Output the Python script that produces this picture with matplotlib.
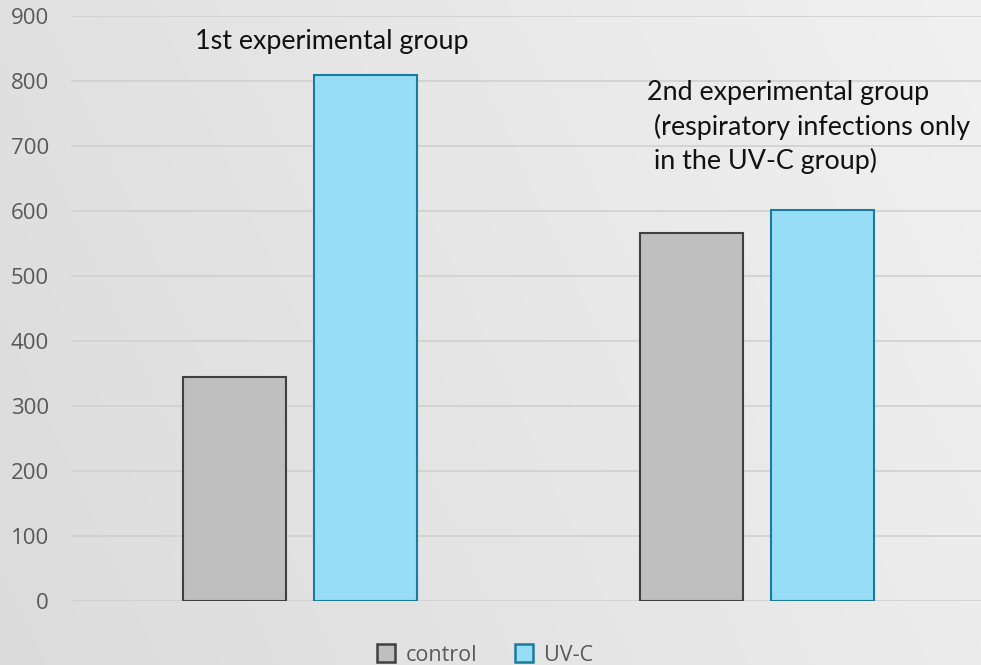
import numpy as np
import matplotlib
matplotlib.use("Agg")
import matplotlib.pyplot as plt
from matplotlib.patches import Patch

groups = ["1st experimental group", "2nd experimental group"]
series = ["control", "UV-C"]
control_vals = [345, 566]
uvc_vals = [810, 602]
yticks = [0, 100, 200, 300, 400, 500, 600, 700, 800, 900]
group_notes = ["1st experimental group",
               "2nd experimental group\n (respiratory infections only\n in the UV-C group)"]

W, H = 981, 665
fig = plt.figure(figsize=(W / 100, H / 100), dpi=100)

# background gradient
bg = fig.add_axes([0, 0, 1, 1], zorder=-10)
xg = np.linspace(0, 1, 300)
yg = np.linspace(0, 1, 200)
X, Y = np.meshgrid(xg, yg)
val = 0.86 + 0.065 * X + 0.02 * Y
val = np.clip(val, 0, 1)
bg.imshow(np.dstack([val, val, val]), extent=[0, 1, 0, 1], aspect="auto", origin="lower")
bg.axis("off")

left_px, right_px = 71, 981
bottom_px, top_px = 601, 16
ax = fig.add_axes([left_px / W, (H - bottom_px) / H, (right_px - left_px) / W, (bottom_px - top_px) / H])
ax.patch.set_alpha(0)

unit = 457.0
ax.set_xlim(-0.5, -0.5 + (right_px - left_px) / unit)
ax.set_ylim(0, 900)

x = np.arange(len(groups))
bw = 103 / unit
off = 65.5 / unit
ax.bar(x - off, control_vals, width=bw, color="#bfbfbf", edgecolor="#404040", linewidth=1.5, zorder=3)
ax.bar(x + off, uvc_vals, width=bw, color="#97ddf5", edgecolor="#1a7aa0", linewidth=1.5, zorder=3)

ax.set_yticks(yticks)
ax.yaxis.grid(True, color="#d0d0d0", linewidth=1.2, zorder=0)
ax.set_axisbelow(True)
ax.tick_params(axis="y", length=0, pad=16, labelsize=16, labelcolor="#595959")
ax.tick_params(axis="x", length=0, labelbottom=False)
for lab in ax.get_yticklabels():
    lab.set_fontfamily("Open Sans")
for s in ax.spines.values():
    s.set_visible(False)

# annotations
fig.text(195 / W, 1 - 42 / H, group_notes[0], fontsize=19.4, family="Lato",
         color="#111111", ha="left", va="center")
fig.text(647 / W, 1 - 127 / H, group_notes[1], fontsize=19.4, family="Lato",
         color="#111111", ha="left", va="center", linespacing=1.42)

handles = [Patch(facecolor="#bfbfbf", edgecolor="#404040", linewidth=1.8, label=series[0]),
           Patch(facecolor="#97ddf5", edgecolor="#1a7aa0", linewidth=1.8, label=series[1])]
leg = fig.legend(handles=handles, loc="center", bbox_to_anchor=(485 / W, 1 - 655 / H),
                 ncol=2, frameon=False, handlelength=0.85, handleheight=0.85,
                 handletextpad=0.5, columnspacing=1.75, borderpad=0.1,
                 prop={"family": "Open Sans", "size": 15.5})
for t in leg.get_texts():
    t.set_color("#595959")

fig.savefig("out.png", dpi=100)
